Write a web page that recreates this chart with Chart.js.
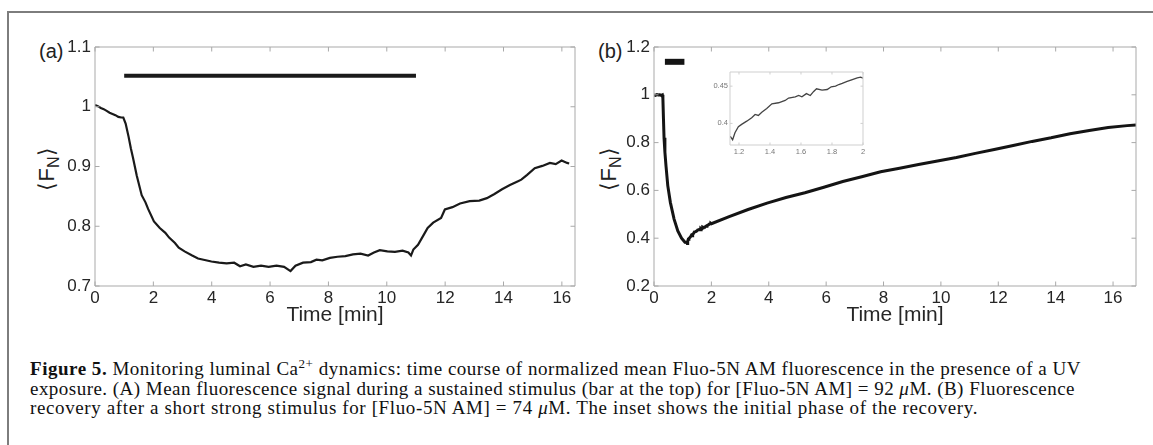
<!DOCTYPE html>
<html>
<head>
<meta charset="utf-8">
<title>Figure 5</title>
<script src="https://cdn.jsdelivr.net/npm/chart.js@4.4.1/dist/chart.umd.min.js"></script>
<style>
  html, body { margin: 0; padding: 0; background: #fff; }
  body { width: 1153px; height: 445px; position: relative; overflow: hidden;
         font-family: "Liberation Sans", Arial, sans-serif; color: #222; }
  .frame { position: absolute; left: 7px; top: 11px; width: 1200px; height: 500px;
           border-left: 2px solid #7d7d7d; border-top: 2px solid #7d7d7d; }
  .panel { position: absolute; }
  .tag { position: absolute; font-size: 20px; line-height: 20px; }
  .ylab { position: absolute; font-size: 22px; line-height: 22px; white-space: nowrap;
          transform: translate(-50%, -50%) rotate(-90deg); }
  .ylab sub { font-size: 16px; vertical-align: -5px; line-height: 0; }
  .cap { position: absolute; left: 30px; font-family: "Liberation Serif", "Times New Roman", serif;
         font-size: 19px; line-height: 19.5px; color: #111; white-space: nowrap; }
  .cap sup { font-size: 13px; line-height: 0; vertical-align: 7px; }
</style>
</head>
<body>
<div class="frame"></div>

<div class="tag" style="left:39px; top:41px;">(a)</div>
<div class="tag" style="left:598px; top:41px;">(b)</div>
<div class="ylab" style="left:47px; top:169px;">⟨F<sub>N</sub>⟩</div>
<div class="ylab" style="left:609px; top:169px;">⟨F<sub>N</sub>⟩</div>

<canvas id="panelA" class="panel" width="590" height="330" style="left:0; top:0;"></canvas>
<canvas id="panelB" class="panel" width="593" height="330" style="left:560px; top:0;"></canvas>
<canvas id="inset" class="panel" width="175" height="100" style="left:700px; top:60px;"></canvas>

<div class="cap" data-w="1051" style="top:359px;"><b>Figure 5.</b> Monitoring luminal Ca<sup>2+</sup> dynamics: time course of normalized mean Fluo-5N AM fluorescence in the presence of a UV</div>
<div class="cap" data-w="1045" style="top:378.5px;">exposure. (A) Mean fluorescence signal during a sustained stimulus (bar at the top) for [Fluo-5N AM] = 92 <i>μ</i>M. (B) Fluorescence</div>
<div class="cap" data-w="948" style="top:398px;">recovery after a short strong stimulus for [Fluo-5N AM] = 74 <i>μ</i>M. The inset shows the initial phase of the recovery.</div>

<script>
// (a) sustained stimulus, [Fluo-5N AM] = 92 uM
const timeA = [0, 0.1, 0.2, 0.3, 0.4, 0.5, 0.6, 0.7, 0.8, 0.9, 0.97, 1.05, 1.15, 1.23, 1.3, 1.43, 1.6, 1.73, 1.82,
  2.02, 2.22, 2.41, 2.54, 2.74, 2.87, 3.07, 3.33, 3.53, 3.72, 3.99, 4.25, 4.51, 4.77, 4.97, 5.17, 5.43, 5.69,
  5.95, 6.22, 6.48, 6.7, 6.87, 7.13, 7.4, 7.59, 7.79, 8.05, 8.31, 8.58, 8.84, 9.1, 9.36, 9.56, 9.76, 10.02,
  10.28, 10.54, 10.74, 10.83, 10.91, 11.07, 11.27, 11.4, 11.59, 11.86, 11.99, 12.25, 12.51, 12.84, 13.17,
  13.43, 13.69, 13.95, 14.22, 14.48, 14.61, 14.81, 15.07, 15.33, 15.59, 15.79, 15.99, 16.18, 16.25];
const fluoA = [1.003, 1.001, 0.998, 0.996, 0.993, 0.990, 0.988, 0.986, 0.983, 0.982, 0.982, 0.972, 0.950, 0.930, 0.915, 0.885, 0.852, 0.840, 0.829,
  0.808, 0.797, 0.789, 0.781, 0.772, 0.764, 0.758, 0.751, 0.746, 0.744, 0.741, 0.739, 0.738, 0.739, 0.733, 0.736, 0.732, 0.734,
  0.732, 0.734, 0.732, 0.725, 0.734, 0.739, 0.740, 0.744, 0.743, 0.747, 0.749, 0.750, 0.753, 0.754, 0.751, 0.756, 0.760, 0.758,
  0.757, 0.759, 0.756, 0.751, 0.761, 0.769, 0.786, 0.797, 0.806, 0.814, 0.828, 0.832, 0.838, 0.842, 0.843,
  0.847, 0.854, 0.862, 0.869, 0.875, 0.878, 0.886, 0.897, 0.901, 0.906, 0.904, 0.910, 0.906, 0.905];
const stimA = [1.0, 11.0];      // stimulus bar, minutes
const stimLevelA = 1.052;

// (b) short strong stimulus, [Fluo-5N AM] = 74 uM
const timeB = [0, 0.05, 0.1, 0.15, 0.2, 0.25, 0.29, 0.31, 0.33, 0.35, 0.38, 0.42, 0.48, 0.57, 0.7, 0.83, 0.96, 1.08,
  1.146, 1.159, 1.174, 1.196, 1.217, 1.25, 1.282, 1.304, 1.325, 1.347, 1.379, 1.412, 1.455, 1.498, 1.52, 1.563,
  1.585, 1.606, 1.635, 1.66, 1.682, 1.70, 1.736, 1.769, 1.795, 1.823, 1.844, 1.866, 1.898, 1.931, 1.963, 1.985, 2.0,
  2.62, 3.28, 3.94, 4.6, 5.26, 5.92, 6.58, 7.24, 7.9, 8.56, 9.22, 9.88, 10.54, 11.2, 11.86, 12.52, 13.18, 13.84,
  14.5, 15.17, 15.83, 16.49, 16.8];
const fluoB = [1.0, 0.998, 1.001, 0.999, 1.0, 0.998, 1.0, 0.985, 0.9, 0.82, 0.76, 0.70, 0.62, 0.55, 0.48, 0.43, 0.40, 0.383,
  0.382, 0.378, 0.3875, 0.3955, 0.3987, 0.403, 0.4076, 0.412, 0.4107, 0.415, 0.420, 0.4263, 0.4277, 0.4308, 0.434, 0.4357,
  0.4375, 0.4357, 0.440, 0.4375, 0.4429, 0.4464, 0.4446, 0.4455, 0.4491, 0.45, 0.4522, 0.4536, 0.4563, 0.4589, 0.4612, 0.462, 0.4607,
  0.49, 0.52, 0.547, 0.57, 0.59, 0.613, 0.637, 0.657, 0.678, 0.693, 0.708, 0.723, 0.738, 0.755, 0.771, 0.788, 0.805, 0.82,
  0.837, 0.851, 0.863, 0.871, 0.874];
const stimB = [0.38, 1.06];
const stimLevelB = 1.138;

// tick labels
const xTicksMain = [0, 2, 4, 6, 8, 10, 12, 14, 16];
const yTicksA = [0.7, 0.8, 0.9, 1.0, 1.1];
const yTicksB = [0.2, 0.4, 0.6, 0.8, 1.0, 1.2];
const xTicksInset = [1.2, 1.4, 1.6, 1.8, 2.0];
const yTicksInset = [0.4, 0.45];

const sans = '"Liberation Sans", Arial, sans-serif';

// box around the plot area with inward ticks on all four sides
const boxTicks = {
  id: 'boxTicks',
  afterDatasetsDraw(chart, args, opts) {
    const { ctx, chartArea: a } = chart;
    const x = chart.scales.x, y = chart.scales.y;
    ctx.save();
    ctx.strokeStyle = opts.color;
    ctx.lineWidth = 1;
    ctx.beginPath();
    ctx.rect(a.left, a.top, a.right - a.left, a.bottom - a.top);
    x.ticks.forEach(t => {
      const p = x.getPixelForValue(t.value);
      ctx.moveTo(p, a.bottom); ctx.lineTo(p, a.bottom - opts.len);
      ctx.moveTo(p, a.top); ctx.lineTo(p, a.top + opts.len);
    });
    y.ticks.forEach(t => {
      const p = y.getPixelForValue(t.value);
      ctx.moveTo(a.left, p); ctx.lineTo(a.left + opts.len, p);
      ctx.moveTo(a.right, p); ctx.lineTo(a.right - opts.len, p);
    });
    ctx.stroke();
    ctx.restore();
  }
};

const fmt = v => String(Math.round(v * 100) / 100);
const pts = (xs, ys) => xs.map((t, i) => ({ x: t, y: ys[i] }));

function axes(o) {
  return {
    x: {
      type: 'linear', min: o.xMin, max: o.xMax,
      afterBuildTicks: s => { s.ticks = o.xTicks.map(v => ({ value: v })); },
      afterFit: s => { s.height = o.xHeight; },
      grid: { display: false, drawTicks: false },
      border: { display: false },
      ticks: { font: { family: sans, size: o.fontSize }, color: o.tickColor, padding: o.xPad,
               maxRotation: 0, autoSkip: false, callback: fmt },
      title: o.xTitle
        ? { display: true, text: o.xTitle, color: o.tickColor, font: { family: sans, size: 21 },
            padding: { top: 0, bottom: o.titlePad } }
        : { display: false }
    },
    y: {
      type: 'linear', min: o.yMin, max: o.yMax,
      afterBuildTicks: s => { s.ticks = o.yTicks.map(v => ({ value: v })); },
      afterFit: s => { s.width = o.yWidth; },
      grid: { display: false, drawTicks: false },
      border: { display: false },
      ticks: { font: { family: sans, size: o.fontSize }, color: o.tickColor, padding: o.yPad,
               autoSkip: false, callback: fmt }
    }
  };
}

function baseOptions(padding, boxColor, len, scales) {
  return {
    responsive: false,
    animation: false,
    events: [],
    layout: { padding },
    plugins: { legend: { display: false }, tooltip: { enabled: false }, boxTicks: { color: boxColor, len } },
    scales
  };
}

new Chart(document.getElementById('panelA'), {
  type: 'line',
  data: {
    datasets: [
      { data: pts(timeA, fluoA), borderColor: '#1a1a1a', borderWidth: 2.2, pointRadius: 0, tension: 0 },
      { data: pts(stimA, [stimLevelA, stimLevelA]), borderColor: '#1a1a1a', borderWidth: 4, pointRadius: 0 }
    ]
  },
  options: baseOptions({ top: 47, right: 15, bottom: 0, left: 0 }, '#a9a9a9', 4.5,
    axes({ xMin: 0, xMax: 16.45, yMin: 0.7, yMax: 1.1, xTicks: xTicksMain, yTicks: yTicksA,
           xHeight: 44, yWidth: 95, fontSize: 17, tickColor: '#262626', xPad: 2, yPad: 4,
           xTitle: 'Time [min]', titlePad: 2 })),
  plugins: [boxTicks]
});

new Chart(document.getElementById('panelB'), {
  type: 'line',
  data: {
    datasets: [
      { data: pts(timeB, fluoB), borderColor: '#141414', borderWidth: 3, pointRadius: 0, tension: 0 },
      { data: pts(stimB, [stimLevelB, stimLevelB]), borderColor: '#141414', borderWidth: 6, pointRadius: 0 }
    ]
  },
  options: baseOptions({ top: 47, right: 17, bottom: 0, left: 0 }, '#a9a9a9', 4.5,
    axes({ xMin: 0, xMax: 16.8, yMin: 0.2, yMax: 1.2, xTicks: xTicksMain, yTicks: yTicksB,
           xHeight: 44, yWidth: 94, fontSize: 17, tickColor: '#262626', xPad: 2, yPad: 4,
           xTitle: 'Time [min]', titlePad: 2 })),
  plugins: [boxTicks]
});

new Chart(document.getElementById('inset'), {
  type: 'line',
  data: {
    datasets: [
      { data: pts(timeB, fluoB), borderColor: '#444', borderWidth: 1.3, pointRadius: 0, tension: 0 }
    ]
  },
  options: baseOptions({ top: 12, right: 12, bottom: 0, left: 0 }, '#cfcfcf', 2.5,
    axes({ xMin: 1.142, xMax: 2.0, yMin: 0.371, yMax: 0.469, xTicks: xTicksInset, yTicks: yTicksInset,
           xHeight: 15, yWidth: 30, fontSize: 7.5, tickColor: '#777', xPad: 2, yPad: 2 })),
  plugins: [boxTicks]
});

// stretch each caption line to the width it takes in the original layout
document.querySelectorAll('.cap').forEach(el => {
  const target = +el.dataset.w;
  const n = el.textContent.length;
  const w = el.getBoundingClientRect().width;
  el.style.letterSpacing = ((target - w) / n) + 'px';
});
</script>
</body>
</html>
